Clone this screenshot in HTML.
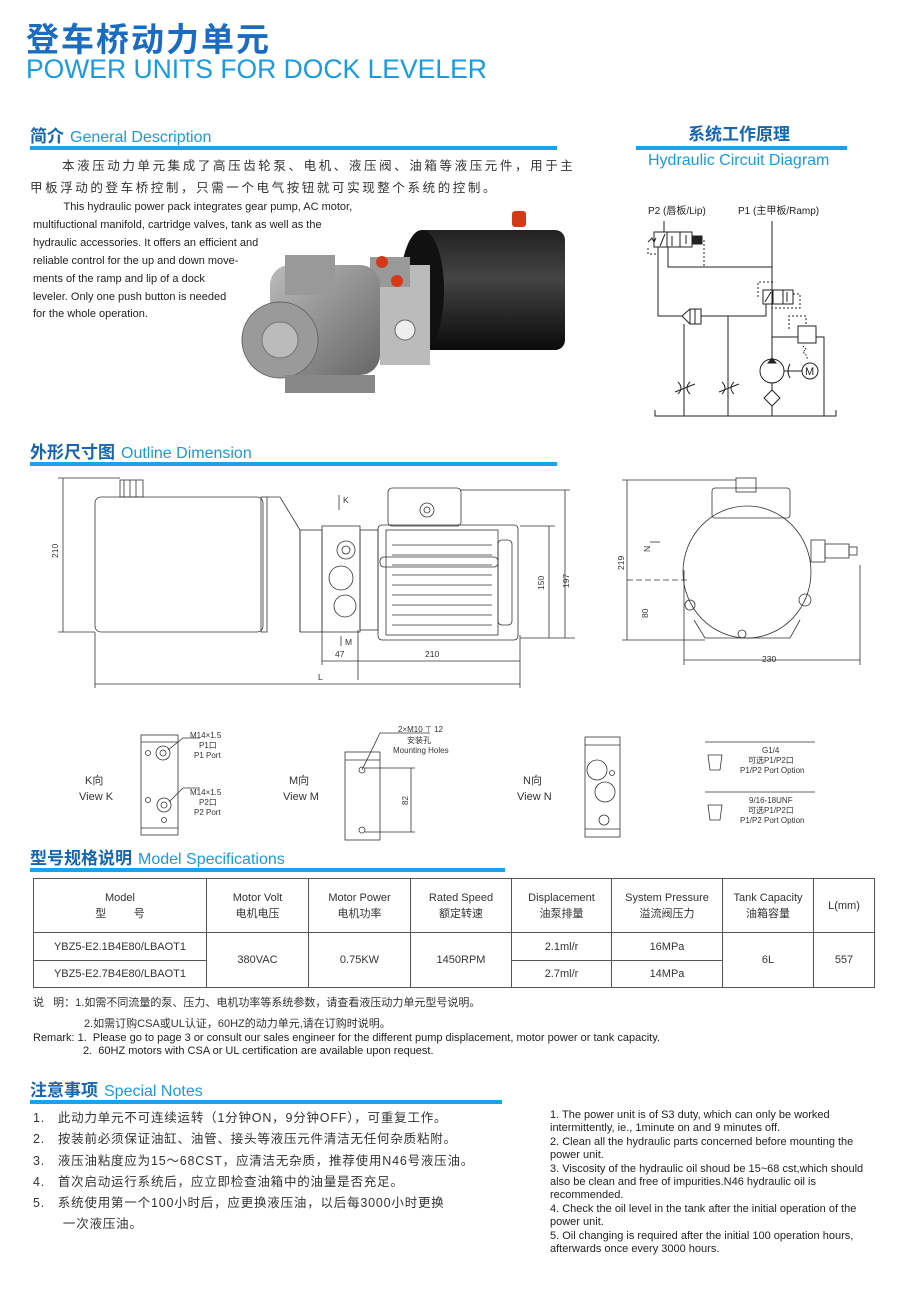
<!DOCTYPE html>
<html><head><meta charset="utf-8">
<style>
body{margin:0;width:900px;height:1292px;background:#fff;position:relative;overflow:hidden;font-family:"Liberation Sans","Noto Sans CJK SC",sans-serif;color:#222}
.a{position:absolute;white-space:nowrap}
.bar{position:absolute;height:4px;background:#1ea2e6}
.h{font-weight:bold;color:#1565b0;font-size:17px}
.h span{font-weight:normal;color:#1a9be0;font-size:16px;margin-left:6px}
.cn{font-size:12.5px;letter-spacing:2.6px;color:#333}
.en{font-size:11px;color:#222}
table{border-collapse:collapse;position:absolute;left:33px;top:878px;width:842px;font-size:11px;color:#333}
td{border:1px solid #555;text-align:center;padding:0;line-height:16px}
</style></head><body>
<div class="a" style="left:26px;top:22px;font-size:33px;line-height:36px;font-weight:bold;color:#1a6cc0;letter-spacing:2px">登车桥动力单元</div>
<div class="a" style="left:26px;top:56px;font-size:26.5px;line-height:27px;color:#1a9be0">POWER UNITS FOR DOCK LEVELER</div>

<div class="a h" style="left:30px;top:122px">简介<span>General Description</span></div>
<div class="bar" style="left:30px;top:146px;width:527px"></div>
<div class="a cn" style="left:62px;top:155px">本液压动力单元集成了高压齿轮泵、电机、液压阀、油箱等液压元件，用于主</div>
<div class="a cn" style="left:30px;top:177px">甲板浮动的登车桥控制，只需一个电气按钮就可实现整个系统的控制。</div>
<div class="a en" style="left:33px;top:199px;line-height:17.9px;white-space:normal;width:400px">&nbsp;&nbsp;&nbsp;&nbsp;&nbsp;&nbsp;&nbsp;&nbsp;&nbsp;&nbsp;This hydraulic power pack integrates gear pump, AC motor,<br>multifuctional manifold, cartridge valves, tank as well as the<br>hydraulic accessories. It offers an efficient and<br>reliable control for the up and down move-<br>ments of the ramp and lip of a dock<br>leveler. Only one push button is needed<br>for the whole operation.</div>

<!-- photo -->
<svg class="a" style="left:240px;top:205px" width="340" height="205">
<defs><linearGradient id="g1" x1="0" y1="0" x2="0" y2="1"><stop offset="0" stop-color="#222"/><stop offset=".4" stop-color="#444"/><stop offset="1" stop-color="#0a0a0a"/></linearGradient>
<linearGradient id="g2" x1="0" y1="0" x2="1" y2="1"><stop offset="0" stop-color="#bbb"/><stop offset="1" stop-color="#666"/></linearGradient></defs>
<rect x="175" y="25" width="150" height="120" rx="10" fill="url(#g1)"/>
<ellipse cx="182" cy="85" rx="22" ry="60" fill="#111"/>
<rect x="272" y="6" width="14" height="16" rx="3" fill="#d43a1a"/>
<rect x="140" y="60" width="50" height="100" fill="#bbb"/>
<circle cx="165" cy="125" r="10" fill="#eee" stroke="#666"/>
<rect x="130" y="52" width="40" height="30" fill="#999"/>
<circle cx="142" cy="57" r="6" fill="#d43a1a"/><circle cx="157" cy="76" r="6" fill="#d43a1a"/>
<rect x="30" y="60" width="110" height="110" rx="20" fill="url(#g2)"/>
<rect x="45" y="50" width="50" height="40" fill="#999"/>
<circle cx="40" cy="135" r="38" fill="#9a9a9a" stroke="#666"/>
<circle cx="40" cy="135" r="18" fill="#bbb" stroke="#777"/>
<rect x="45" y="170" width="90" height="18" fill="#888"/>
</svg>

<div class="a" style="left:688px;top:120px;font-size:17px;font-weight:bold;color:#1565b0">系统工作原理</div>
<div class="bar" style="left:636px;top:146px;width:211px"></div>
<div class="a" style="left:648px;top:152px;font-size:16px;color:#1a9be0">Hydraulic Circuit Diagram</div>

<!-- circuit -->
<svg class="a" style="left:0;top:0" width="900" height="440" font-family="Liberation Sans,Noto Sans CJK SC,sans-serif">
<g stroke="#222" stroke-width="1" fill="none">
<text x="648" y="214" font-size="10" fill="#222" stroke="none">P2 (唇板/Lip)</text>
<text x="738" y="214" font-size="10" fill="#222" stroke="none">P1 (主甲板/Ramp)</text>
<line x1="772" y1="221" x2="772" y2="416"/>
<line x1="664" y1="221" x2="664" y2="232"/>
<rect x="654" y="232" width="38" height="15"/><line x1="667" y1="232" x2="667" y2="247"/><line x1="680" y1="232" x2="680" y2="247"/>
<rect x="692" y="236" width="10" height="8" fill="#222"/>
<line x1="660" y1="246" x2="665" y2="234"/><line x1="672" y1="236" x2="672" y2="246"/><line x1="686" y1="244" x2="686" y2="235"/>
<path d="M648 242 l4 -4 l2 4 l2 -4" />
<path d="M648 248 v6 h8 M692 240 h12 v27" stroke-dasharray="2 2"/>
<path d="M668 247 V267 H772"/>
<path d="M658 247 V316 H682"/>
<rect x="690" y="309" width="11" height="15"/><line x1="695" y1="309" x2="695" y2="324"/>
<path d="M690 309 L682 316 L690 324"/>
<path d="M701 316 H766 V304"/>
<rect x="763" y="290" width="30" height="14"/><line x1="773" y1="290" x2="773" y2="304"/><line x1="783" y1="290" x2="783" y2="304"/>
<line x1="765" y1="302" x2="771" y2="292"/><line x1="787" y1="302" x2="787" y2="292"/>
<path d="M758 297 V282 H773 M793 294 H800 V308 H772" stroke-dasharray="2 2"/>
<line x1="684" y1="324" x2="684" y2="416"/><line x1="728" y1="316" x2="728" y2="416"/>
<path d="M678 382 q6 6 0 12 M690 382 q-6 6 0 12 M675 392 L695 384"/>
<path d="M722 382 q6 6 0 12 M734 382 q-6 6 0 12 M719 392 L739 384"/>
<path d="M772 337 H798 M816 337 H824 V416"/>
<rect x="798" y="326" width="18" height="17"/>
<path d="M789 329 V316 H806 V326" stroke-dasharray="2 2"/>
<path d="M803 346 l3 3 l-3 3 l3 3 l2 5" stroke-dasharray="1.5 1.5"/>
<circle cx="772" cy="371" r="12" fill="#fff"/><path d="M768 363 L772 358 L776 363 Z" fill="#222"/>
<line x1="784" y1="371" x2="802" y2="371"/><path d="M790 364 q-4 7 0 14"/>
<circle cx="810" cy="371" r="8" fill="#fff"/>
<text x="805" y="375" font-size="11" fill="#222" stroke="none">M</text>
<path d="M772 390 L780 398 L772 406 L764 398 Z" fill="#fff"/>
<path d="M655 410 V416 H836 V410"/>
</g>
</svg>

<div class="a h" style="left:30px;top:438px">外形尺寸图<span>Outline Dimension</span></div>
<div class="bar" style="left:30px;top:462px;width:527px"></div>

<!-- outline drawings -->
<svg class="a" style="left:0;top:470px" width="900" height="380" font-family="Liberation Sans,Noto Sans CJK SC,sans-serif" font-size="8.5">
<g stroke="#333" stroke-width="0.8" fill="none">
<rect x="95" y="27" width="168" height="135" rx="6"/>
<rect x="261" y="27" width="6" height="135"/>
<path d="M267 27 H280 L300 60 V162"/>
<rect x="300" y="60" width="22" height="102"/>
<rect x="120" y="10" width="23" height="17"/><line x1="124" y1="10" x2="124" y2="27"/><line x1="130" y1="10" x2="130" y2="27"/><line x1="136" y1="10" x2="136" y2="27"/>
<rect x="322" y="56" width="38" height="106"/>
<circle cx="346" cy="80" r="9"/><circle cx="346" cy="80" r="4"/>
<circle cx="341" cy="108" r="12"/><circle cx="345" cy="136" r="11"/>
<rect x="360" y="60" width="18" height="100"/>
<rect x="378" y="55" width="140" height="115" rx="4"/>
<rect x="386" y="60" width="112" height="105"/>
<path d="M392 75 H492 M392 85 H492 M392 95 H492 M392 105 H492 M392 115 H492 M392 125 H492 M392 135 H492 M392 145 H492 M392 155 H492"/>
<rect x="380" y="87" width="118" height="10" rx="4"/>
<rect x="388" y="18" width="73" height="38" rx="4"/><circle cx="427" cy="40" r="7"/><circle cx="427" cy="40" r="3"/>
<rect x="498" y="70" width="14" height="85" rx="4"/>
<line x1="63" y1="8" x2="63" y2="162"/><line x1="58" y1="8" x2="120" y2="8"/><line x1="58" y1="162" x2="95" y2="162"/>
<line x1="549" y1="56" x2="549" y2="168"/><line x1="520" y1="56" x2="555" y2="56"/><line x1="520" y1="168" x2="575" y2="168"/>
<line x1="565" y1="20" x2="565" y2="168"/><line x1="461" y1="20" x2="570" y2="20"/>
<line x1="95" y1="162" x2="95" y2="218"/><line x1="322" y1="160" x2="322" y2="195"/><line x1="358" y1="160" x2="358" y2="210"/><line x1="520" y1="165" x2="520" y2="218"/>
<line x1="322" y1="191" x2="520" y2="191"/><line x1="95" y1="214" x2="520" y2="214"/>
<line x1="339" y1="25" x2="339" y2="40"/><line x1="341" y1="166" x2="341" y2="176"/>
<ellipse cx="747" cy="102" rx="64" ry="66"/>
<rect x="712" y="18" width="78" height="30" rx="3"/>
<rect x="736" y="8" width="20" height="14"/>
<rect x="811" y="70" width="14" height="22"/><rect x="825" y="74" width="24" height="14"/><rect x="849" y="77" width="8" height="8"/>
<path d="M694 150 L705 168 H790 L800 150"/>
<circle cx="690" cy="135" r="5"/><circle cx="805" cy="130" r="6"/><circle cx="742" cy="164" r="4"/>
<line x1="627" y1="10" x2="627" y2="170"/><line x1="622" y1="10" x2="736" y2="10"/><line x1="622" y1="170" x2="705" y2="170"/>
<line x1="627" y1="110" x2="690" y2="110" stroke-dasharray="6 3"/>
<line x1="684" y1="100" x2="684" y2="195"/><line x1="860" y1="95" x2="860" y2="195"/><line x1="684" y1="190" x2="860" y2="190"/>
<line x1="650" y1="72" x2="660" y2="72"/>
<rect x="141" y="265" width="37" height="100"/><line x1="141" y1="272" x2="178" y2="272"/><line x1="141" y1="358" x2="178" y2="358"/>
<circle cx="163" cy="283" r="7"/><circle cx="163" cy="283" r="3"/><circle cx="164" cy="335" r="7"/><circle cx="164" cy="335" r="3"/>
<circle cx="148" cy="283" r="2.5"/><circle cx="148" cy="330" r="2.5"/><circle cx="164" cy="350" r="2.5"/>
<path d="M168 280 L183 268 H200 M169 332 L183 318 H200"/>
<rect x="345" y="282" width="35" height="88"/><line x1="345" y1="290" x2="380" y2="290"/>
<circle cx="362" cy="300" r="3"/><circle cx="362" cy="360" r="3"/>
<path d="M362 300 L380 263 H430"/><line x1="365" y1="298" x2="415" y2="298"/><line x1="365" y1="362" x2="415" y2="362"/><line x1="411" y1="298" x2="411" y2="362"/>
<rect x="585" y="267" width="35" height="100"/><line x1="585" y1="275" x2="620" y2="275"/><line x1="585" y1="359" x2="620" y2="359"/>
<circle cx="597" cy="300" r="10"/><circle cx="605" cy="322" r="10"/><circle cx="604" cy="350" r="5"/><circle cx="612" cy="303" r="2.5"/>
<path d="M708 285 h14 l-2 15 h-10 Z M708 335 h14 l-2 15 h-10 Z"/>
<line x1="705" y1="272" x2="815" y2="272"/><line x1="705" y1="322" x2="815" y2="322"/>
</g>
<g fill="#333">
<text x="58" y="88" transform="rotate(-90 58 88)">210</text>
<text x="343" y="33">K</text><text x="345" y="175">M</text>
<text x="335" y="187">47</text><text x="425" y="187">210</text><text x="318" y="210">L</text>
<text x="544" y="120" transform="rotate(-90 544 120)">150</text><text x="569" y="118" transform="rotate(-90 569 118)">197</text>
<text x="624" y="100" transform="rotate(-90 624 100)">219</text><text x="648" y="148" transform="rotate(-90 648 148)">80</text>
<text x="650" y="82" transform="rotate(-90 650 82)">N</text>
<text x="762" y="192">230</text>
<text x="190" y="268" font-size="8">M14×1.5</text><text x="199" y="278" font-size="8">P1口</text><text x="194" y="288" font-size="8">P1 Port</text>
<text x="190" y="325" font-size="8">M14×1.5</text><text x="199" y="335" font-size="8">P2口</text><text x="194" y="345" font-size="8">P2 Port</text>
<text x="398" y="262" font-size="8">2×M10 ⊤ 12</text><text x="407" y="273" font-size="8">安装孔</text><text x="393" y="283" font-size="8">Mounting Holes</text>
<text x="408" y="335" font-size="8" transform="rotate(-90 408 335)">82</text>
<text x="85" y="314" font-size="11">K向</text><text x="79" y="330" font-size="11">View K</text>
<text x="289" y="314" font-size="11">M向</text><text x="283" y="330" font-size="11">View M</text>
<text x="523" y="314" font-size="11">N向</text><text x="517" y="330" font-size="11">View N</text>
<text x="762" y="283" font-size="8">G1/4</text><text x="748" y="293" font-size="8">可选P1/P2口</text><text x="740" y="303" font-size="8">P1/P2 Port Option</text>
<text x="749" y="333" font-size="8">9/16-18UNF</text><text x="748" y="343" font-size="8">可选P1/P2口</text><text x="740" y="353" font-size="8">P1/P2 Port Option</text>
</g>
</svg>

<div class="a h" style="left:30px;top:844px">型号规格说明<span>Model Specifications</span></div>
<div class="bar" style="left:30px;top:868px;width:475px"></div>
<table>
<tr style="height:54px"><td style="width:172px">Model<br>型&nbsp;&nbsp;&nbsp;&nbsp;&nbsp;&nbsp;&nbsp;&nbsp;&nbsp;号</td><td style="width:101px">Motor Volt<br>电机电压</td><td style="width:101px">Motor Power<br>电机功率</td><td style="width:100px">Rated Speed<br>额定转速</td><td style="width:99px">Displacement<br>油泵排量</td><td style="width:110px">System Pressure<br>溢流阀压力</td><td style="width:90px">Tank Capacity<br>油箱容量</td><td>L(mm)</td></tr>
<tr style="height:28px"><td>YBZ5-E2.1B4E80/LBAOT1</td><td rowspan="2">380VAC</td><td rowspan="2">0.75KW</td><td rowspan="2">1450RPM</td><td>2.1ml/r</td><td>16MPa</td><td rowspan="2">6L</td><td rowspan="2">557</td></tr>
<tr style="height:27px"><td>YBZ5-E2.7B4E80/LBAOT1</td><td>2.7ml/r</td><td>14MPa</td></tr>
</table>
<div class="a" style="left:33px;top:994px;font-size:11px;color:#333">说&nbsp;&nbsp;&nbsp;明：1.如需不同流量的泵、压力、电机功率等系统参数，请查看液压动力单元型号说明。</div>
<div class="a" style="left:84px;top:1015px;font-size:11px;color:#333">2.如需订购CSA或UL认证，60HZ的动力单元,请在订购时说明。</div>
<div class="a" style="left:33px;top:1032px;font-size:11px;color:#222">Remark: 1.&nbsp; Please go to page 3 or consult our sales engineer for the different pump displacement, motor power or tank capacity.</div>
<div class="a" style="left:83px;top:1045px;font-size:11px;color:#222">2.&nbsp; 60HZ motors with CSA or UL certification are available upon request.</div>

<div class="a h" style="left:30px;top:1076px">注意事项<span>Special Notes</span></div>
<div class="bar" style="left:30px;top:1100px;width:472px"></div>
<div class="a" style="left:33px;top:1108px;font-size:12.5px;line-height:21.3px;color:#333;letter-spacing:0.8px">1.&nbsp;&nbsp; 此动力单元不可连续运转（1分钟ON，9分钟OFF），可重复工作。<br>2.&nbsp;&nbsp; 按装前必须保证油缸、油管、接头等液压元件清洁无任何杂质粘附。<br>3.&nbsp;&nbsp; 液压油粘度应为15～68CST，应清洁无杂质，推荐使用N46号液压油。<br>4.&nbsp;&nbsp; 首次启动运行系统后，应立即检查油箱中的油量是否充足。<br>5.&nbsp;&nbsp; 系统使用第一个100小时后，应更换液压油，以后每3000小时更换<br>&nbsp;&nbsp;&nbsp;&nbsp;&nbsp;&nbsp;&nbsp;一次液压油。</div>
<div class="a" style="left:550px;top:1109px;font-size:11px;line-height:13.4px;color:#222;white-space:normal;width:330px">1. The power unit is of S3 duty, which can only be worked intermittently, ie., 1minute on and 9 minutes off.<br>2. Clean all the hydraulic parts concerned before mounting the power unit.<br>3. Viscosity of the hydraulic oil shoud be 15~68 cst,which should also be clean and free of impurities.N46 hydraulic oil is recommended.<br>4. Check the oil level in the tank after the initial operation of the power unit.<br>5. Oil changing is required after the initial 100 operation hours, afterwards once every 3000 hours.</div>
</body></html>
